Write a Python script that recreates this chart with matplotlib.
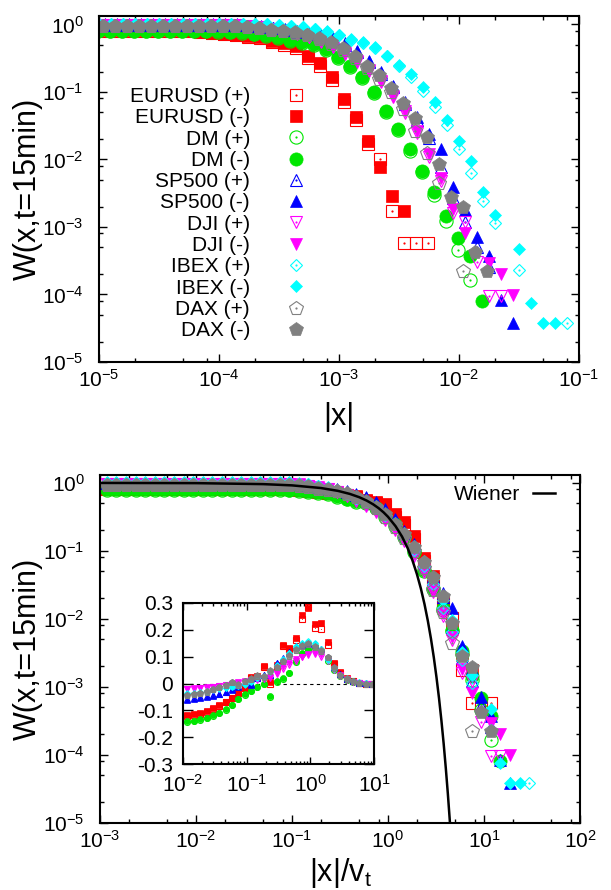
import numpy as np
import matplotlib
matplotlib.use('Agg')
import matplotlib.pyplot as plt
from matplotlib.ticker import LogLocator, NullFormatter, FixedLocator, FuncFormatter
from matplotlib.legend_handler import HandlerTuple

nan = float('nan')

# bin centres, log10(|x|/v_t), shared by all series
BIN_EXP = [-2.93, -2.83, -2.73, -2.63, -2.53, -2.43, -2.33, -2.23, -2.13, -2.03,
           -1.93, -1.83, -1.73, -1.63, -1.53, -1.43, -1.33, -1.23, -1.13, -1.03,
           -0.93, -0.83, -0.73, -0.63, -0.53, -0.43, -0.33, -0.23, -0.13, -0.03,
           0.07, 0.17, 0.27, 0.37, 0.47, 0.57, 0.67, 0.77, 0.87, 0.97,
           1.07, 1.17, 1.27, 1.37, 1.47, 1.57, 1.67]

# log10 of the scale v_t for each market
INSTRUMENTS = ['EURUSD', 'DM', 'SP500', 'DJI', 'IBEX', 'DAX']
VT_EXP = [-3.33, -2.98, -2.82, -2.82, -2.57, -2.84]

# W(x, t=15min), (+) and (-) returns
W_EURUSD_P = [0.81, 0.81, 0.81, 0.81, 0.81, 0.81, 0.81, 0.81, 0.81, 0.81,
              0.81, 0.81, 0.81, 0.81, 0.81, 0.81, 0.81, 0.81, 0.81, 0.81,
              0.79, 0.77, 0.74, 0.71, 0.69, 0.66, 0.62, 0.54, 0.50, 0.45,
              0.32, 0.24, 0.15, 0.072, 0.039, 0.017, 0.0101, 0.00173, 0.000575, 0.000575,
              0.000575, nan, nan, nan, nan, nan, nan]
W_EURUSD_M = [0.82, 0.82, 0.82, 0.82, 0.82, 0.82, 0.82, 0.82, 0.82, 0.82,
              0.82, 0.82, 0.82, 0.82, 0.82, 0.82, 0.82, 0.82, 0.82, 0.82,
              0.80, 0.78, 0.75, 0.72, 0.70, 0.67, 0.645, 0.564, 0.526, 0.485,
              0.345, 0.266, 0.165, 0.0787, 0.043, 0.019, 0.00766, 0.00288, 0.00173, nan,
              nan, nan, nan, nan, nan, nan, nan]
W_DM_P = [0.79, 0.79, 0.79, 0.79, 0.79, 0.79, 0.79, 0.79, 0.79, 0.79,
          0.79, 0.79, 0.79, 0.79, 0.79, 0.79, 0.79, 0.79, 0.79, 0.78,
          0.77, 0.74, 0.71, 0.68, 0.63, 0.575, 0.53, 0.50, 0.42, 0.32,
          0.235, 0.158, 0.095, 0.05, 0.027, 0.0135, 0.0065, 0.00298, 0.00124, 0.000457,
          0.000164, nan, nan, nan, nan, nan, nan]
W_DM_M = [0.80, 0.80, 0.80, 0.80, 0.80, 0.80, 0.80, 0.80, 0.80, 0.80,
          0.80, 0.80, 0.80, 0.80, 0.80, 0.80, 0.80, 0.80, 0.80, 0.79,
          0.78, 0.76, 0.73, 0.70, 0.645, 0.589, 0.545, 0.514, 0.434, 0.333,
          0.245, 0.165, 0.099, 0.0528, 0.0283, 0.0143, 0.00682, 0.00333, 0.00146, 0.00068,
          0.00037, 0.0000813, nan, nan, nan, nan, nan]
W_SP500_P = [0.99, 0.99, 0.99, 0.99, 0.99, 0.99, 0.99, 0.99, 0.99, 0.99,
             0.99, 0.99, 0.99, 0.99, 0.99, 0.99, 0.99, 0.99, 0.99, 0.99,
             0.96, 0.92, 0.87, 0.83, 0.78, 0.73, 0.67, 0.60, 0.50, 0.39,
             0.28, 0.185, 0.118, 0.066, 0.038, 0.021, 0.00766, 0.00266, 0.0012, 0.000513,
             0.000257, nan, nan, nan, nan, nan, nan]
W_SP500_M = [1.0, 1.0, 1.0, 1.0, 1.0, 1.0, 1.0, 1.0, 1.0, 1.0,
             1.0, 1.0, 1.0, 1.0, 1.0, 1.0, 1.0, 1.0, 1.0, 1.0,
             0.96, 0.93, 0.89, 0.85, 0.80, 0.75, 0.69, 0.62, 0.526, 0.409,
             0.291, 0.195, 0.124, 0.0703, 0.0422, 0.0239, 0.0143, 0.00395, 0.00179, 0.000703,
             0.000372, 0.0000832, 0.000038, nan, nan, nan, nan]
W_DJI_P = [0.97, 0.97, 0.97, 0.97, 0.97, 0.97, 0.97, 0.97, 0.97, 0.97,
           0.97, 0.97, 0.97, 0.97, 0.97, 0.97, 0.97, 0.97, 0.97, 0.97,
           0.94, 0.90, 0.85, 0.80, 0.73, 0.65, 0.55, 0.46, 0.37, 0.28,
           0.205, 0.14, 0.084, 0.048, 0.025, 0.011, 0.0048, 0.0016, 0.0012, 0.000306,
           0.0000955, 0.0000955, nan, nan, nan, nan, nan]
W_DJI_M = [0.98, 0.98, 0.98, 0.98, 0.98, 0.98, 0.98, 0.98, 0.98, 0.98,
           0.98, 0.98, 0.98, 0.98, 0.98, 0.98, 0.98, 0.98, 0.98, 0.98,
           0.95, 0.91, 0.86, 0.81, 0.74, 0.66, 0.56, 0.47, 0.38, 0.29,
           0.212, 0.147, 0.0883, 0.0518, 0.0267, 0.012, 0.00532, 0.00183, 0.00081, nan,
           0.000296, 0.000201, 0.0000984, nan, nan, nan, nan]
W_IBEX_P = [1.01, 1.01, 1.01, 1.01, 1.01, 1.01, 1.01, 1.01, 1.01, 1.01,
            1.01, 1.01, 1.01, 1.01, 1.01, 1.01, 1.01, 1.01, 1.01, 1.01,
            0.98, 0.95, 0.90, 0.85, 0.78, 0.69, 0.59, 0.53, 0.445, 0.335,
            0.245, 0.169, 0.102, 0.0607, 0.0328, 0.0143, 0.0063, 0.00245, 0.00115, nan,
            0.000234, nan, nan, nan, 0.000038, nan, nan]
W_IBEX_M = [1.02, 1.02, 1.02, 1.02, 1.02, 1.02, 1.02, 1.02, 1.02, 1.02,
            1.02, 1.02, 1.02, 1.02, 1.02, 1.02, 1.02, 1.02, 1.02, 1.02,
            0.99, 0.96, 0.91, 0.86, 0.792, 0.707, 0.60, 0.54, 0.459, 0.345,
            0.254, 0.185, 0.1175, 0.0703, 0.0385, 0.019, 0.0096, 0.00324, 0.00151, nan,
            0.000468, 0.0000759, 0.000038, 0.000038, nan, nan, nan]
W_DAX_P = [0.93, 0.93, 0.93, 0.93, 0.93, 0.93, 0.93, 0.93, 0.93, 0.93,
           0.93, 0.93, 0.93, 0.93, 0.93, 0.93, 0.93, 0.93, 0.93, 0.93,
           0.91, 0.87, 0.82, 0.79, 0.75, 0.69, 0.61, 0.52, 0.42, 0.32,
           0.225, 0.155, 0.098, 0.055, 0.0267, 0.0124, 0.00444, nan, 0.00022, nan,
           nan, nan, nan, nan, nan, nan, nan]
W_DAX_M = [0.94, 0.94, 0.94, 0.94, 0.94, 0.94, 0.94, 0.94, 0.94, 0.94,
           0.94, 0.94, 0.94, 0.94, 0.94, 0.94, 0.94, 0.94, 0.94, 0.94,
           0.92, 0.887, 0.83, 0.81, 0.766, 0.706, 0.63, 0.545, 0.444, 0.345,
           0.245, 0.175, 0.115, 0.068, 0.041, 0.0218, 0.0086, 0.0028, 0.00195, 0.00043,
           0.00022, nan, nan, nan, nan, nan, nan]

# inset: deviation from the Wiener curve, bins BIN_EXP[10:40]
D_EURUSD_P = [-0.12, -0.117, -0.112, -0.105, -0.094, -0.083, -0.07, -0.055, -0.037, -0.017,
              0.022, 0.026, 0.06, 0.0, 0.062, 0.138, 0.13, 0.163, 0.24, 0.285,
              0.206, 0.204, 0.144, 0.072, 0.04, 0.017, 0.009, 0.002, 0.0, 0.0]
D_EURUSD_M = [-0.118, -0.115, -0.11, -0.103, -0.092, -0.081, -0.069, -0.053, -0.035, -0.015,
              0.025, 0.028, 0.065, 0.005, 0.068, 0.143, 0.134, 0.168, 0.255, 0.28,
              0.222, 0.227, 0.156, 0.078, 0.044, 0.019, 0.01, 0.003, 0.0, 0.0]
D_DM_P = [-0.143, -0.14, -0.135, -0.13, -0.121, -0.111, -0.098, -0.081, -0.058, -0.042,
          -0.029, -0.014, -0.002, -0.05, 0.006, 0.018, 0.038, 0.08, 0.11, 0.125,
          0.133, 0.12, 0.085, 0.052, 0.028, 0.014, 0.007, 0.002, 0.0, 0.0]
D_DM_M = [-0.141, -0.138, -0.133, -0.128, -0.119, -0.109, -0.096, -0.079, -0.056, -0.04,
          -0.027, -0.012, 0.0, -0.047, 0.008, 0.02, 0.04, 0.085, 0.115, 0.13,
          0.138, 0.125, 0.09, 0.055, 0.03, 0.015, 0.008, 0.003, 0.0, 0.0]
D_SP500_P = [-0.058, -0.055, -0.052, -0.048, -0.044, -0.038, -0.031, -0.022, -0.01, 0.007,
             -0.003, 0.022, 0.032, 0.033, 0.078, 0.095, 0.118, 0.138, 0.148, 0.15,
             0.146, 0.13, 0.098, 0.06, 0.034, 0.017, 0.008, 0.003, 0.001, 0.0]
D_SP500_M = [-0.06, -0.057, -0.054, -0.05, -0.046, -0.04, -0.033, -0.024, -0.012, 0.005,
             -0.005, 0.02, 0.03, 0.03, 0.075, 0.092, 0.115, 0.135, 0.145, 0.148,
             0.145, 0.13, 0.1, 0.062, 0.035, 0.018, 0.008, 0.003, 0.001, 0.0]
D_DJI_P = [-0.022, -0.02, -0.018, -0.016, -0.013, -0.01, -0.006, -0.002, 0.002, 0.006,
           0.008, 0.013, 0.018, 0.022, 0.036, 0.055, 0.07, 0.085, 0.097, 0.106,
           0.11, 0.1, 0.085, 0.05, 0.028, 0.014, 0.005, 0.002, 0.0, 0.0]
D_DJI_M = [-0.02, -0.018, -0.016, -0.014, -0.012, -0.008, -0.004, 0.0, 0.004, 0.008,
           0.01, 0.015, 0.02, 0.025, 0.04, 0.06, 0.075, 0.09, 0.1, 0.11,
           0.113, 0.105, 0.09, 0.055, 0.03, 0.015, 0.006, 0.002, 0.0, 0.0]
D_IBEX_P = [-0.036, -0.034, -0.031, -0.028, -0.022, -0.018, -0.015, -0.012, -0.008, -0.003,
            0.007, 0.02, 0.027, 0.046, 0.068, 0.09, 0.115, 0.138, 0.152, 0.158,
            0.15, 0.128, 0.088, 0.054, 0.03, 0.018, 0.009, 0.004, 0.001, 0.0]
D_IBEX_M = [-0.038, -0.035, -0.033, -0.03, -0.023, -0.019, -0.016, -0.013, -0.01, -0.005,
            0.005, 0.019, 0.025, 0.044, 0.065, 0.088, 0.112, 0.135, 0.15, 0.156,
            0.148, 0.13, 0.09, 0.056, 0.031, 0.019, 0.01, 0.004, 0.001, 0.0]
D_DAX_P = [-0.044, -0.04, -0.036, -0.03, -0.022, -0.014, -0.007, 0.004, -0.005, 0.008,
           0.017, 0.029, 0.025, 0.047, 0.06, 0.082, 0.103, 0.124, 0.14, 0.147,
           0.135, 0.122, 0.097, 0.058, 0.03, 0.018, 0.009, 0.003, 0.0, 0.0]
D_DAX_M = [-0.042, -0.038, -0.034, -0.028, -0.02, -0.012, -0.005, 0.006, -0.003, 0.01,
           0.019, 0.031, 0.027, 0.05, 0.063, 0.085, 0.106, 0.128, 0.144, 0.15,
           0.138, 0.125, 0.1, 0.06, 0.031, 0.019, 0.01, 0.003, 0.0, 0.0]

# Wiener curve
WIENER_X = [0.001, 0.01, 0.05, 0.1, 0.2, 0.3, 0.4, 0.5, 0.6, 0.7, 0.8, 0.9, 1.0,
            1.2, 1.4, 1.6, 1.8, 2.0, 2.2, 2.4, 2.6, 2.8, 3.0, 3.2, 3.4, 3.6, 3.8,
            4.0, 4.2, 4.4, 4.6]
WIENER_Y = [0.9992, 0.992, 0.960, 0.920, 0.841, 0.764, 0.689, 0.617, 0.549, 0.484,
            0.424, 0.368, 0.317, 0.230, 0.162, 0.110, 0.0719, 0.0455, 0.0278, 0.0164,
            0.00932, 0.00511, 0.0027, 0.00137, 0.000674, 0.000318, 0.000145, 6.33e-5,
            2.67e-5, 1.08e-5, 4.2e-6]

W_PLUS = [W_EURUSD_P, W_DM_P, W_SP500_P, W_DJI_P, W_IBEX_P, W_DAX_P]
W_MINUS = [W_EURUSD_M, W_DM_M, W_SP500_M, W_DJI_M, W_IBEX_M, W_DAX_M]
D_PLUS = [D_EURUSD_P, D_DM_P, D_SP500_P, D_DJI_P, D_IBEX_P, D_DAX_P]
D_MINUS = [D_EURUSD_M, D_DM_M, D_SP500_M, D_DJI_M, D_IBEX_M, D_DAX_M]

COLORS = ['#ff0000', '#00e600', '#0000ff', '#ff00ff', '#00ffff', '#808080']
MARKERS = ['s', 'o', '^', 'v', 'D', 'p']
MSIZE = [9, 9.5, 9, 9, 6.5, 10]

plt.rcParams['font.family'] = 'Liberation Sans'
plt.rcParams['mathtext.fontset'] = 'custom'
plt.rcParams['mathtext.rm'] = 'Liberation Sans'
plt.rcParams['mathtext.it'] = 'Liberation Sans:italic'
plt.rcParams['axes.unicode_minus'] = False


def draw(ax, x, y, i, filled, scale=1.0):
    c = COLORS[i]
    ms = MSIZE[i] * scale
    if filled:
        return ax.plot(x, y, ls='none', marker=MARKERS[i], ms=ms, mfc=c, mec=c, mew=0.5)[0]
    h = ax.plot(x, y, ls='none', marker=MARKERS[i], ms=ms, mfc='none', mec=c, mew=0.8)[0]
    d = ax.plot(x, y, ls='none', marker='o', ms=1.6 * scale, mfc=c, mec='none')[0]
    return (h, d)


def style_log(ax):
    for a in (ax.xaxis, ax.yaxis):
        a.set_major_locator(LogLocator(base=10, numticks=20))
        a.set_minor_locator(LogLocator(base=10, subs=(2, 5, 8), numticks=20))
        a.set_minor_formatter(NullFormatter())
    ax.tick_params(which='both', direction='in', top=True, right=True, labelsize=15)
    ax.tick_params(which='major', length=6, width=1)
    ax.tick_params(which='minor', length=3, width=1)
    ax.tick_params(axis='y', pad=11)
    ax.tick_params(axis='x', pad=5)
    for s in ax.spines.values():
        s.set_linewidth(1.5)


fig = plt.figure(figsize=(6.11, 8.90), dpi=100)
ax1 = fig.add_axes([99 / 611, 1 - 362 / 890, 480 / 611, 346 / 890])
ax2 = fig.add_axes([100 / 611, 1 - 822.5 / 890, 480 / 611, 348 / 890])
ax3 = fig.add_axes([183 / 611, 1 - 764 / 890, 191 / 611, 161 / 890])

g = np.array(BIN_EXP)
handles, labels = [], []
for i, name in enumerate(INSTRUMENTS):
    xt = 10 ** (VT_EXP[i] + g)
    xs = 10 ** g
    xi = 10 ** g[10:40]
    for sign, wl, dl, filled in (('+', W_PLUS, D_PLUS, False), ('-', W_MINUS, D_MINUS, True)):
        h = draw(ax1, xt, wl[i], i, filled)
        draw(ax2, xs, wl[i], i, filled)
        draw(ax3, xi, dl[i], i, filled, scale=0.45)
        handles.append(h)
        labels.append('%s (%s)' % (name, sign))

# top panel
ax1.set_xscale('log')
ax1.set_yscale('log')
ax1.set_xlim(1e-5, 1e-1)
ax1.set_ylim(1e-5, 1.33)
style_log(ax1)
ax1.set_xlabel('|x|', fontsize=22, va='center')
ax1.xaxis.set_label_coords(0.5, -0.159)
ax1.set_ylabel('W(x,t=15min)', fontsize=22, va='center')
ax1.yaxis.set_label_coords(-0.149, 0.5)
ax1.legend(handles, labels, loc='upper right', bbox_to_anchor=(0.432, 0.795),
           frameon=False, markerfirst=False, fontsize=15, handlelength=1.0,
           handletextpad=1.7, labelspacing=0.11, borderpad=0, borderaxespad=0,
           handler_map={tuple: HandlerTuple(ndivide=1)})

# bottom panel
wl, = ax2.plot(WIENER_X, WIENER_Y, color='black', lw=1.8)
ax2.set_xscale('log')
ax2.set_yscale('log')
ax2.set_xlim(1e-3, 1e2)
ax2.set_ylim(1e-5, 1.33)
style_log(ax2)
ax2.set_xlabel('|x|/v$_\\mathregular{t}$', fontsize=22, va='center')
ax2.xaxis.set_label_coords(0.5, -0.145)
ax2.set_ylabel('W(x,t=15min)', fontsize=22, va='center')
ax2.yaxis.set_label_coords(-0.151, 0.5)
ax2.legend([wl], ['Wiener'], loc='upper right', bbox_to_anchor=(0.948, 0.97),
           frameon=False, markerfirst=False, fontsize=15, handlelength=1.06,
           handletextpad=0.62, borderpad=0, borderaxespad=0)

# inset
ax3.axhline(0, color='black', lw=0.8, ls=(0, (3, 3)), zorder=0)
ax3.set_xscale('log')
ax3.set_xlim(1e-2, 1e1)
ax3.set_ylim(-0.3, 0.3)
ax3.xaxis.set_major_locator(LogLocator(base=10, numticks=10))
ax3.xaxis.set_minor_locator(LogLocator(base=10, subs=np.arange(2, 10), numticks=10))
ax3.xaxis.set_minor_formatter(NullFormatter())
ax3.yaxis.set_major_locator(FixedLocator([-0.3, -0.2, -0.1, 0.0, 0.1, 0.2, 0.3]))
ax3.yaxis.set_major_formatter(FuncFormatter(lambda v, p: '0' if abs(v) < 1e-9 else '%.1f' % v))
ax3.tick_params(which='both', direction='in', top=True, right=True, labelsize=15)
ax3.tick_params(axis='x', which='major', length=5, width=1, pad=7)
ax3.tick_params(axis='x', which='minor', length=2.5, width=1)
ax3.tick_params(axis='y', which='major', length=7.5, width=1, pad=7)
for s in ax3.spines.values():
    s.set_linewidth(1.5)

fig.savefig('out.png', dpi=100)
